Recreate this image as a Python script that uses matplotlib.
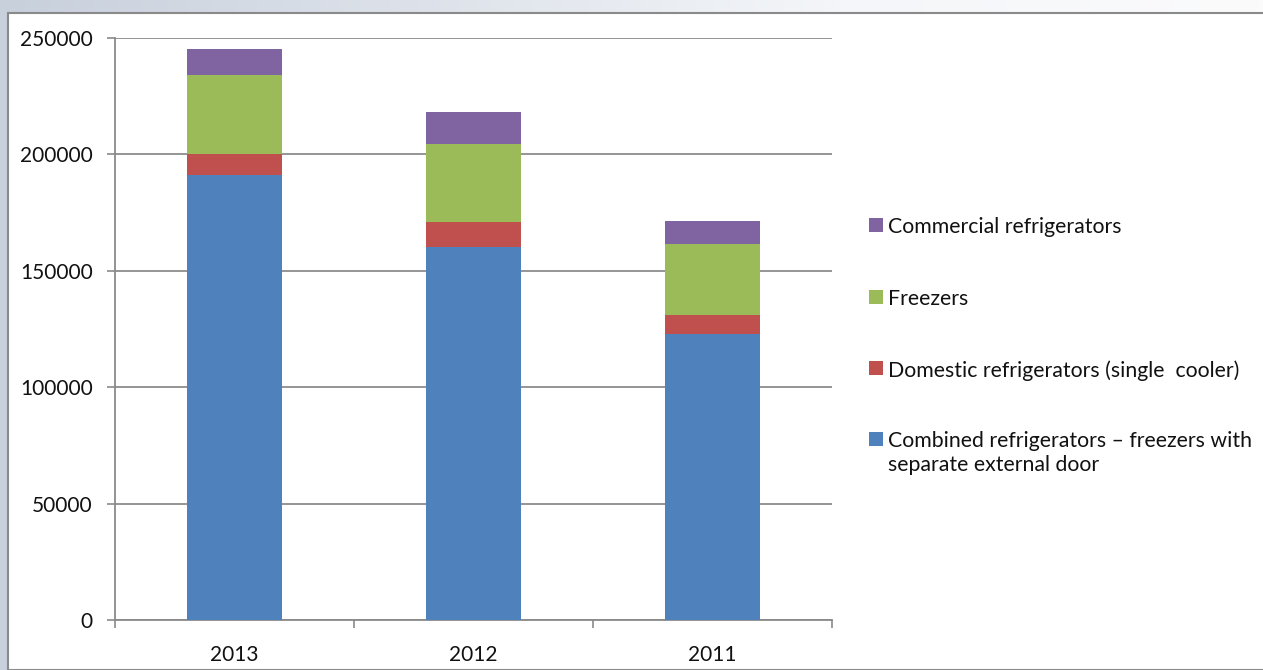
import matplotlib
matplotlib.use("Agg")
import matplotlib.pyplot as plt
import numpy as np
from matplotlib.patches import Rectangle
from matplotlib.colors import LinearSegmentedColormap

plt.rcParams['font.family'] = ['Lato', 'DejaVu Sans']

years = ["2013", "2012", "2011"]
series_names = [
    "Combined refrigerators \u2013 freezers with\nseparate external door",
    "Domestic refrigerators (single  cooler)",
    "Freezers",
    "Commercial refrigerators",
]
combined = [191000, 160100, 123000]
domestic = [9000, 11000, 8100]
freezers = [34100, 33200, 30400]
commercial = [11000, 13800, 9800]
colors = ["#4f81bd", "#c0504d", "#9bbb59", "#8064a2"]

W, H = 1263, 670
fig = plt.figure(figsize=(W / 100, H / 100), dpi=100)

# background gradient
bg = fig.add_axes([0, 0, 1, 1], zorder=-10)
cmap = LinearSegmentedColormap.from_list("g", ["#c8d0dc", "#dde2ea", "#f4f6f9", "#fbfbfc"])
grad = np.linspace(0, 1, 256).reshape(1, -1)
bg.imshow(grad, aspect="auto", cmap=cmap, extent=[0, 1, 0, 1])
bg.add_patch(Rectangle((8 / W, 0), 1, 1 - 13 / H, facecolor="white",
                       edgecolor="#8a8a8a", linewidth=1.5))
bg.set_xlim(0, 1)
bg.set_ylim(0, 1)
bg.axis("off")

ax = fig.add_axes([115 / W, 1 - 620 / H, (832 - 115) / W, (620 - 38) / H])
x = np.arange(len(years))
data = [combined, domestic, freezers, commercial]
bottom = np.zeros(len(years))
for vals, c, name in zip(data, colors, series_names):
    ax.bar(x, vals, bottom=bottom, width=0.40, color=c, label=name, zorder=3)
    bottom += np.array(vals)

FS = 15
ax.set_xlim(-0.5, len(years) - 0.5)
ax.set_ylim(0, 250000)
ax.set_yticks(np.arange(0, 250001, 50000))
ax.set_yticklabels([str(v) for v in range(0, 250001, 50000)], fontsize=FS, color="#111111")
ax.set_xticks(x)
ax.set_xticklabels(years, fontsize=FS, color="#111111")
ax.set_xticks(np.arange(-0.5, len(years), 1), minor=True)
ax.tick_params(axis="x", which="major", length=0, pad=18)
ax.tick_params(axis="x", which="minor", length=6, width=1.2, color="#8a8a8a", direction="out")
ax.tick_params(axis="y", length=6, width=1.2, color="#8a8a8a", pad=10)
ax.grid(axis="y", color="#8c8c8c", linewidth=1.3, zorder=0)
for s in ["top", "right"]:
    ax.spines[s].set_visible(False)
for s in ["left", "bottom"]:
    ax.spines[s].set_color("#8a8a8a")
    ax.spines[s].set_linewidth(1.3)
ax.set_facecolor("none")

# legend (reverse order)
ys = [225, 297, 368, 439]
for i, (name, c) in enumerate(zip(series_names[::-1], colors[::-1])):
    yc = ys[i]
    fig.patches.append(Rectangle((869 / W, 1 - (yc + 7) / H), 14 / W, 14 / H,
                                 facecolor=c, edgecolor="none", transform=fig.transFigure))
    fig.text(888 / W, 1 - (yc - 8) / H, name, fontsize=15.3, va="top", ha="left",
             linespacing=1.25, color="#111111")

fig.savefig("out.png", dpi=100)
